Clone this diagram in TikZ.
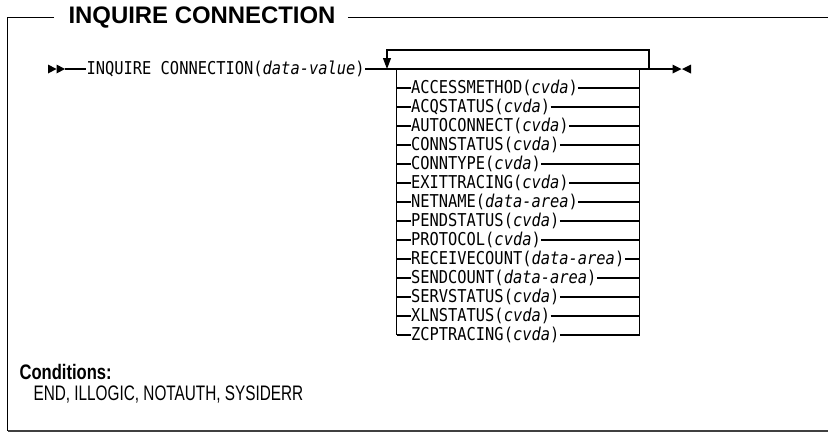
\documentclass[tikz,border=0pt]{standalone}
\usepackage{fontspec}
\setmainfont{Liberation Sans}
\newfontfamily\narrowfont[FakeStretch=0.73]{Liberation Sans}
\newfontfamily\narrowbold[FakeStretch=0.79]{Liberation Sans Bold}
\newfontfamily\syntaxfont[FakeStretch=0.87]{DejaVu Sans Mono}
\usetikzlibrary{positioning,arrows.meta}
\tikzset{
  kw/.style={font=\syntaxfont\fontsize{17.7}{18}\selectfont, inner sep=0pt, anchor=west},
  headtxt/.style={font=\bfseries\fontsize{23.9}{24}\selectfont, inner sep=0pt, anchor=west},
  condtxt/.style={font=\narrowfont\fontsize{21}{22}\selectfont, inner sep=0pt, anchor=west},
}
\begin{document}
\begin{tikzpicture}[x=1pt, y=-1pt, line width=1.1pt]
	\useasboundingbox (0,0) rectangle (828,432);
	% frame and title
	\node[headtxt] (title) at (68,17.5) {INQUIRE CONNECTION};
	\coordinate (TL) at (7.5,17.5); \coordinate (TR) at (828,17.5);
	\coordinate (BL) at (7.5,430.5); \coordinate (BR) at (828,430.5);
	\draw ([xshift=-14pt]title.west |- TL) -- (TL) -- (BL);
	\draw ([xshift=12pt]title.east |- TR) -- (TR);
	\draw[line width=2pt, black!75] (BL) -- (BR);
	% main line
	\node[kw] (cmd) at (86,69) {INQUIRE CONNECTION(\textit{data-value})};
	\coordinate (S) at (65,69); \coordinate (E) at (672.5,69);
	\foreach \x in {48,56.5} \fill (\x,64.5) -- ++(8.5,4.5) -- ++(-8.5,4.5) -- cycle;
	\fill (E) ++(0,-4.5) -- ++(9,4.5) -- ++(-9,4.5) -- cycle;
	\fill (E) ++(18.5,-4.5) -- ++(-9,4.5) -- ++(9,4.5) -- cycle;
	\draw (S) -- (cmd.west) (cmd.east) -- (E);
	% repeat loop
	\coordinate (LR) at (649,69); \coordinate (LL) at (387,69);
	\draw[-{Triangle[length=11pt,width=8pt]}] (LR) -- (649,50) -- (387,50) -- (LL);
	% option stack
	\coordinate (SL) at (396.5,69); \coordinate (SR) at (639.5,69);
	\draw (SL) -- (396.5,335); \draw (SR) -- (639.5,335);
	\foreach [count=\i] \opt/\arg in {ACCESSMETHOD/cvda, ACQSTATUS/cvda, AUTOCONNECT/cvda,
	    CONNSTATUS/cvda, CONNTYPE/cvda, EXITTRACING/cvda, NETNAME/data-area, PENDSTATUS/cvda,
	    PROTOCOL/cvda, RECEIVECOUNT/data-area, SENDCOUNT/data-area, SERVSTATUS/cvda,
	    XLNSTATUS/cvda, ZCPTRACING/cvda} {
		\node[kw] (r\i) at (410.5,69+19*\i) {\opt(\textit{\arg})};
		\draw (SL |- r\i.west) -- (r\i.west) (r\i.east) -- (SR |- r\i.east);
	}
	% conditions
	\node[condtxt, font=\narrowbold\fontsize{21}{22}\selectfont] (cond) at (19,372) {Conditions:};
	\node[condtxt] (errs) at (33,395) {END, ILLOGIC, NOTAUTH, SYSIDERR};
\end{tikzpicture}
\end{document}
